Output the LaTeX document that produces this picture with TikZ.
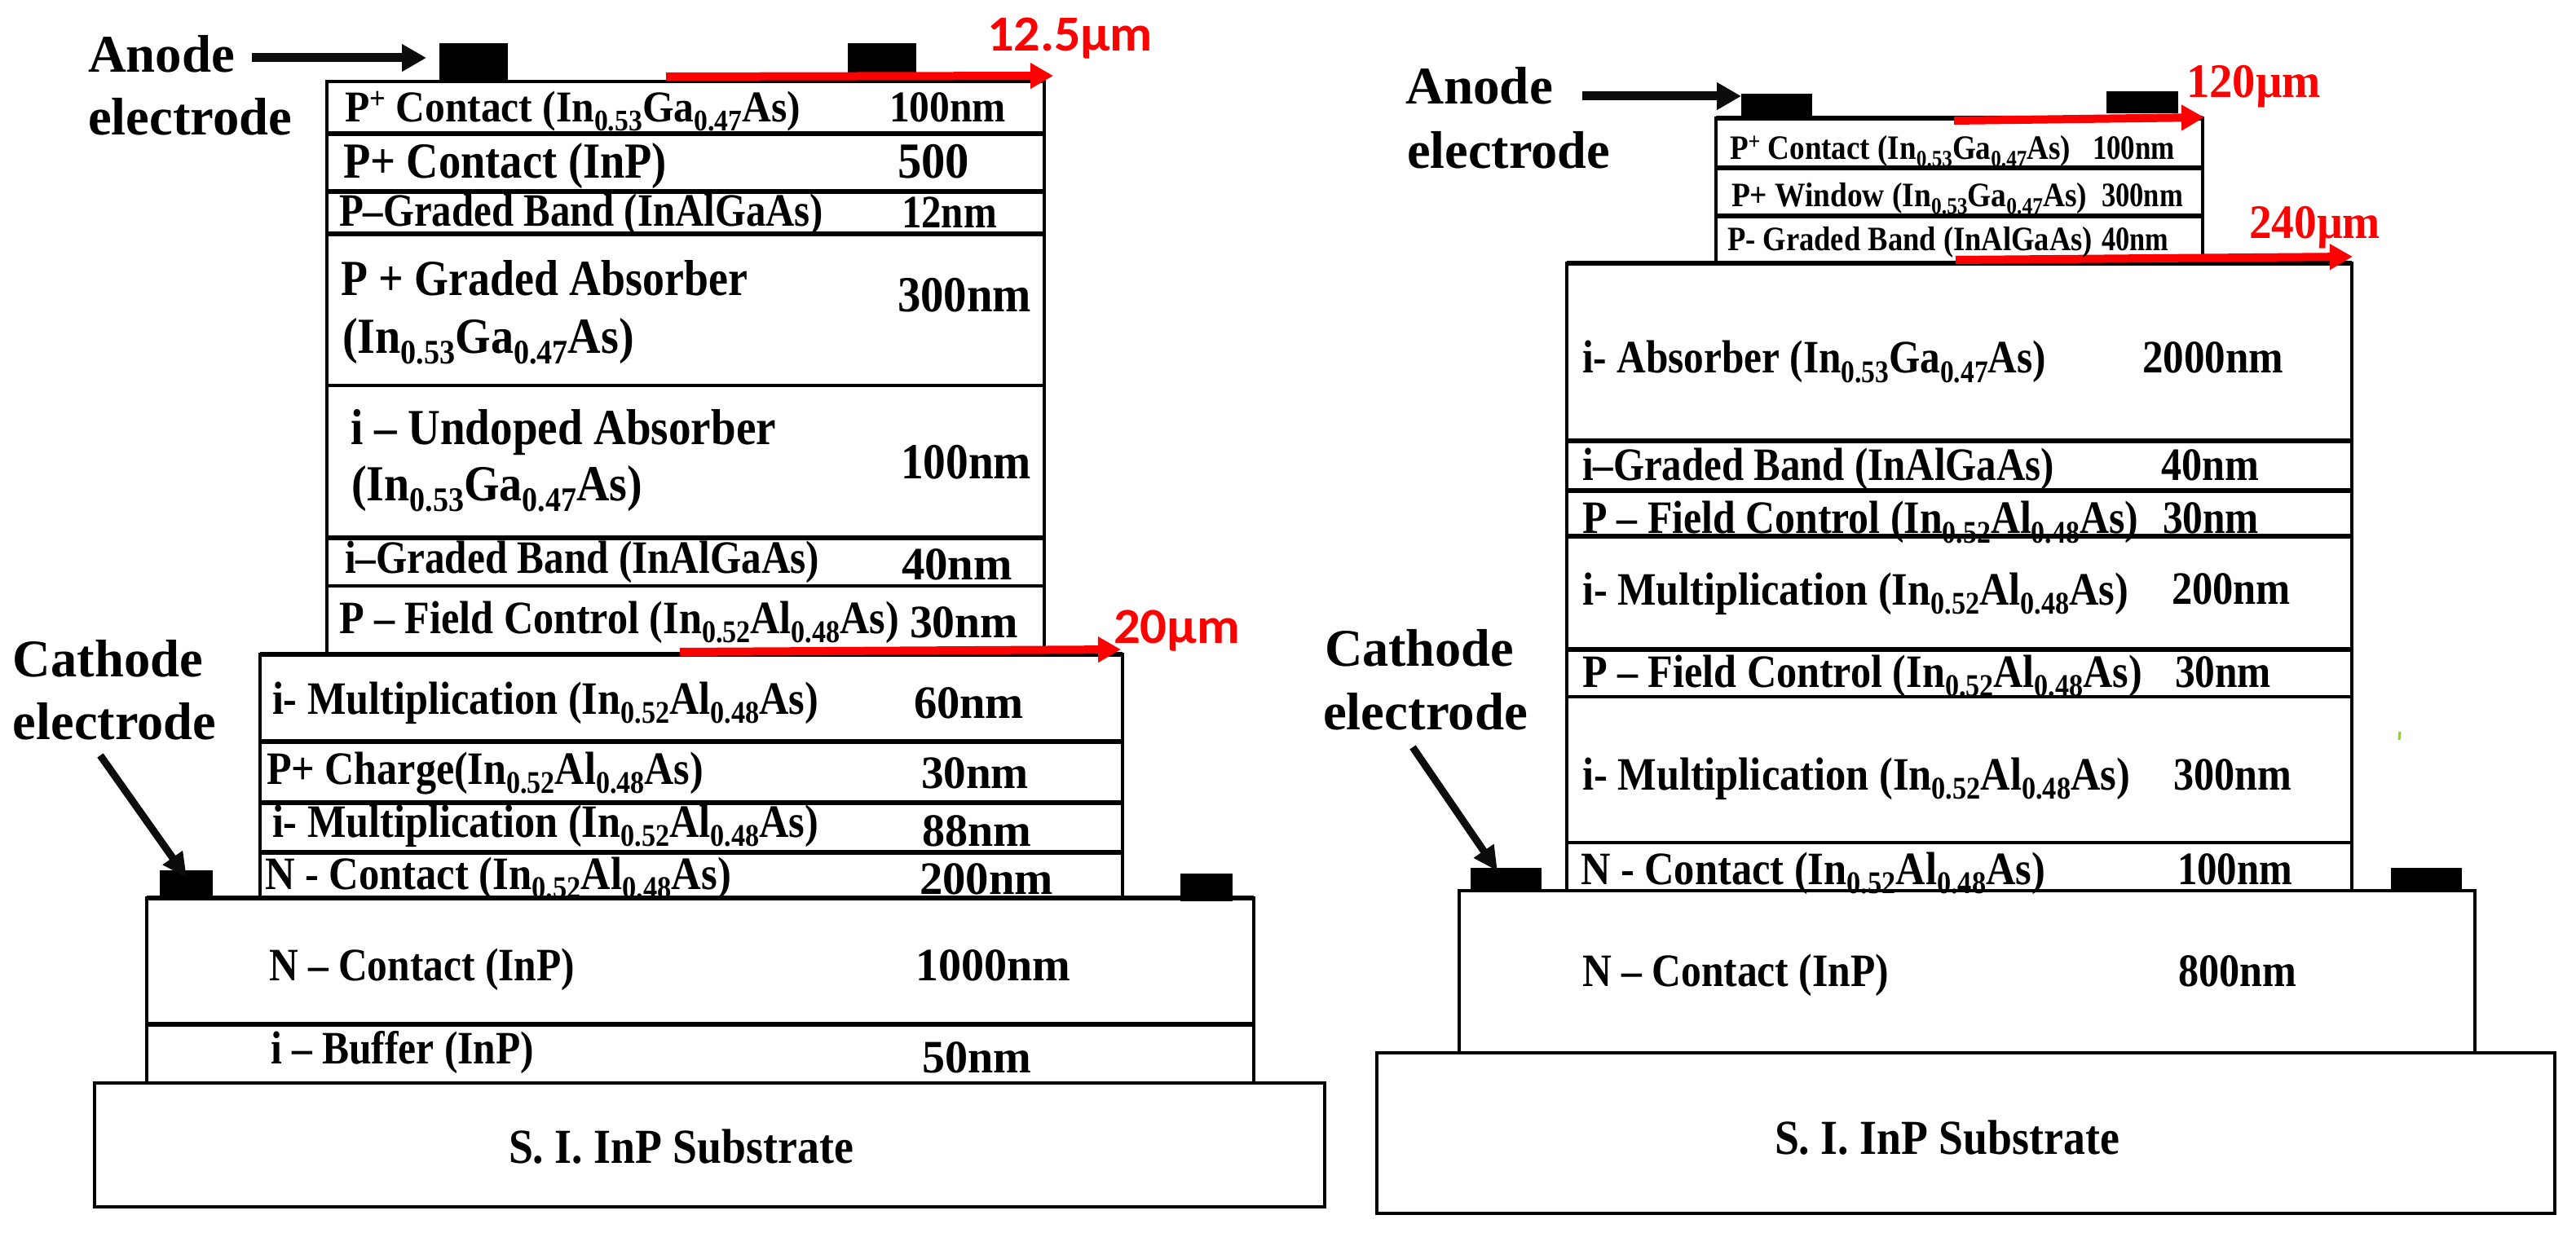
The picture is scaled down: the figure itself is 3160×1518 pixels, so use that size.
\documentclass[tikz,border=0pt]{standalone}
\usepackage{fontspec}
\usepackage{graphicx}
\setmainfont{Liberation Serif}
\newfontfamily\carl{Carlito}
\usetikzlibrary{arrows.meta}
\newsavebox\lb
\newcounter{lb}
\newcommand\sbs[1]{\raisebox{-.2em}{\scalebox{.68}{#1}}}
\newcommand\spp[1]{\raisebox{.3em}{\scalebox{.7}{#1}}}
\newcommand\ig{(In\sbs{0.53}Ga\sbs{0.47}As)}
\newcommand\ia{(In\sbs{0.52}Al\sbs{0.48}As)}
% x, baseline y, width, font size (all reference pixels), text
\newcommand\lab[5]{\stepcounter{lb}\pgfmathsetmacro\myfs{#4*.5}\pgfmathsetmacro\mywd{#3*.5}%
  \node[lbl] (L\arabic{lb}) at (#1,#2) {\sbox\lb{\fontsize{\myfs pt}{\myfs pt}\selectfont\bfseries #5}\resizebox{\mywd pt}{\ht\lb}{\usebox\lb}};}
\newcommand\rlab[5]{\stepcounter{lb}\pgfmathsetmacro\myfs{#4*.5}\pgfmathsetmacro\mywd{#3*.5}%
  \node[lbl,text=redc] (L\arabic{lb}) at (#1,#2) {\sbox\lb{\fontsize{\myfs pt}{\myfs pt}\selectfont\bfseries #5}\resizebox{\mywd pt}{\ht\lb}{\usebox\lb}};}
\definecolor{redc}{RGB}{255,0,0}
\definecolor{arrowk}{RGB}{12,12,12}
\tikzset{
  lbl/.style={anchor=base west,inner sep=0pt,outer sep=0pt},
  layer/.style={draw=black,line width=2pt,fill=white},
  sep/.style={draw=black,line width=3pt},
  elec/.style={fill=black,draw=none},
  blackarrow/.style={draw=arrowk,line width=5.5pt,-{Triangle[length=15pt,width=16pt]}},
  catharrow/.style={draw=arrowk,line width=4.5pt,-{Triangle[length=15pt,width=14pt]}},
  redarrow/.style={draw=redc,line width=5pt,-{Triangle[length=14pt,width=15pt]}},
}
\begin{document}
\begin{tikzpicture}[x=0.5pt,y=-0.5pt]
\useasboundingbox (0,0) rectangle (3160,1518);
\fill[white] (0,0) rectangle (3160,1518);
%%%%% LEFT DEVICE
\draw[layer] (116,1329) rectangle (1625,1481);
\draw[layer] (180,1102) rectangle (1538,1329);
\draw[sep] (180,1257) -- (1538,1257);
\draw[layer] (319,803) rectangle (1377,1102);
\draw[sep] (319,910) -- (1377,910);
\draw[sep] (319,985) -- (1377,985);
\draw[sep] (319,1046) -- (1377,1046);
\draw[layer] (401,100) rectangle (1281,803);
\draw[sep] (401,164) -- (1281,164);
\draw[sep] (401,235) -- (1281,235);
\draw[sep] (401,287) -- (1281,287);
\draw[layer] (401,473) -- (1281,473);
\draw[sep] (401,660) -- (1281,660);
\draw[layer] (401,719) -- (1281,719);
\draw[sep] (319,803) -- (1377,803);
\draw[sep] (180,1102) -- (1538,1102);
% electrodes
\fill[elec] (539,53) rectangle (623,98);
\fill[elec] (1040,53) rectangle (1124,93);
\fill[elec] (196,1068) rectangle (261,1102);
\fill[elec] (1448,1072) rectangle (1512,1106);
% arrows
\coordinate (a1s) at (309,71); \coordinate (a1e) at (523,71);
\draw[blackarrow] (a1s) -- (a1e);
\coordinate (c1s) at (123,927); \coordinate (c1e) at (229,1077);
\draw[catharrow] (c1s) -- (c1e);
\coordinate (r1s) at (817,94); \coordinate (r1e) at (1292,93);
\draw[redarrow] (r1s) -- (r1e);
\coordinate (r2s) at (834,800); \coordinate (r2e) at (1375,797);
\draw[redarrow] (r2s) -- (r2e);
% labels
\lab{108}{89}{180}{65}{Anode}
\lab{108}{166}{250}{65}{electrode}
\lab{16}{830}{233}{65}{Cathode}
\lab{16}{907}{249}{65}{electrode}
\rlab{1211}{63}{203}{62}{\carl 12.5µm}
\rlab{1366}{790}{155}{62}{\carl 20µm}
\lab{423}{150}{559}{54}{P\spp{+} Contact \ig}
\lab{1091}{150}{143}{54}{100nm}
\lab{421}{219}{397}{62}{P+ Contact (InP)}
\lab{1101}{219}{88}{62}{500}
\lab{416}{278}{594}{57}{P–Graded Band (InAlGaAs)}
\lab{1106}{280}{117}{57}{12nm}
\lab{418}{363}{499}{62}{P + Graded Absorber}
\lab{420}{434}{358}{62}{\ig}
\lab{1101}{383}{164}{62}{300nm}
\lab{430}{546}{522}{62}{i – Undoped Absorber}
\lab{431}{615}{357}{62}{\ig}
\lab{1105}{588}{160}{62}{100nm}
\lab{423}{704}{582}{57}{i–Graded Band (InAlGaAs)}
\lab{1106}{712}{136}{57}{40nm}
\lab{416}{777}{687}{57}{P – Field Control \ia}
\lab{1116}{783}{133}{57}{30nm}
\lab{334}{876}{670}{57}{i- Multiplication \ia}
\lab{1121}{881}{135}{57}{60nm}
\lab{327}{962}{536}{57}{P+ Charge\ia}
\lab{1130}{967}{132}{57}{30nm}
\lab{334}{1027}{670}{57}{i- Multiplication \ia}
\lab{1131}{1038}{134}{57}{88nm}
\lab{325}{1091}{572}{57}{N - Contact \ia}
\lab{1128}{1097}{164}{57}{200nm}
\lab{330}{1203}{375}{57}{N – Contact (InP)}
\lab{1123}{1203}{190}{57}{1000nm}
\lab{332}{1305}{323}{57}{i – Buffer (InP)}
\lab{1131}{1316}{134}{57}{50nm}
\lab{624}{1427}{423}{60}{S. I. InP Substrate}
%%%%% RIGHT DEVICE
\draw[layer] (1689,1292) rectangle (3134,1489);
\draw[layer] (1790,1093) rectangle (3036,1292);
\draw[layer] (1922,323) rectangle (2885,1093);
\draw[sep] (1922,541) -- (2885,541);
\draw[sep] (1922,602) -- (2885,602);
\draw[sep] (1922,658) -- (2885,658);
\draw[sep] (1922,797) -- (2885,797);
\draw[layer] (1922,855) -- (2885,855);
\draw[layer] (1922,1034) -- (2885,1034);
\draw[layer] (2105,145) rectangle (2702,323);
\draw[sep] (2105,206) -- (2702,206);
\draw[sep] (2105,265) -- (2702,265);
\draw[sep] (1922,323) -- (2885,323);
\draw[sep] (2105,145) -- (2702,145);
% electrodes
\fill[elec] (2136,115) rectangle (2223,145);
\fill[elec] (2584,112) rectangle (2672,139);
\fill[elec] (1804,1065) rectangle (1891,1093);
\fill[elec] (2933,1065) rectangle (3020,1093);
% arrows
\coordinate (a2s) at (1941,118); \coordinate (a2e) at (2136,118);
\draw[blackarrow] (a2s) -- (a2e);
\coordinate (c2s) at (1733,917); \coordinate (c2e) at (1837,1069);
\draw[catharrow] (c2s) -- (c2e);
\coordinate (r3s) at (2397,148); \coordinate (r3e) at (2704,144);
\draw[redarrow] (r3s) -- (r3e);
\coordinate (r4s) at (2399,319); \coordinate (r4e) at (2886,315);
\draw[redarrow] (r4s) -- (r4e);
% green speck
\draw[draw={rgb,255:red,150;green,200;blue,70},line width=1.5pt] (2944,898) -- (2943,908);
% labels
\lab{1724}{128}{181}{65}{Anode}
\lab{1726}{207}{249}{65}{electrode}
\lab{1625}{817}{232}{65}{Cathode}
\lab{1623}{895}{251}{65}{electrode}
\rlab{2682}{120}{165}{59}{120µm}
\rlab{2759}{293}{161}{59}{240µm}
\lab{2122}{196}{418}{42}{P\spp{+} Contact \ig}
\lab{2567}{196}{101}{42}{100nm}
\lab{2124}{254}{436}{42}{P+ Window \ig}
\lab{2578}{254}{100}{42}{300nm}
\lab{2119}{308}{448}{42}{P- Graded Band (InAlGaAs)}
\lab{2578}{308}{82}{42}{40nm}
\lab{1941}{458}{569}{57}{i- Absorber \ig}
\lab{2628}{458}{173}{57}{2000nm}
\lab{1941}{590}{579}{57}{i–Graded Band (InAlGaAs)}
\lab{2651}{590}{120}{57}{40nm}
\lab{1941}{655}{682}{57}{P – Field Control \ia}
\lab{2653}{655}{118}{57}{30nm}
\lab{1941}{742}{670}{57}{i- Multiplication \ia}
\lab{2664}{742}{146}{57}{200nm}
\lab{1941}{843}{687}{57}{P – Field Control \ia}
\lab{2668}{843}{118}{57}{30nm}
\lab{1941}{969}{672}{57}{i- Multiplication \ia}
\lab{2666}{969}{145}{57}{300nm}
\lab{1939}{1085}{570}{57}{N - Contact \ia}
\lab{2671}{1085}{141}{57}{100nm}
\lab{1941}{1210}{376}{57}{N – Contact (InP)}
\lab{2672}{1210}{145}{57}{800nm}
\lab{2177}{1416}{423}{60}{S. I. InP Substrate}
\end{tikzpicture}
\end{document}
